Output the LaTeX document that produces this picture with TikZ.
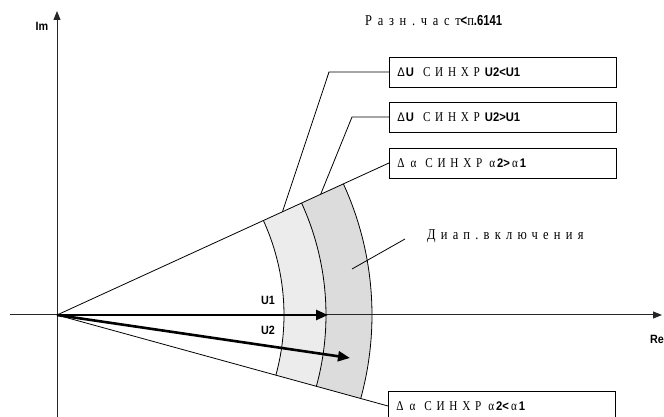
\documentclass[tikz,border=0pt]{standalone}
\usepackage{fontspec}
\setmainfont{Liberation Serif}
\newfontfamily\srf{Liberation Serif}[FakeStretch=0.83,LetterSpace=35]
\newfontfamily\srfn{Liberation Serif}[FakeStretch=0.83]
\newfontfamily\srfw{Liberation Serif}[FakeStretch=0.83,LetterSpace=38]
\newfontfamily\sns{Liberation Sans}[FakeStretch=0.9]
\newfontfamily\snst{Liberation Sans}[FakeStretch=0.78]
\usetikzlibrary{arrows.meta,calc}
\definecolor{bandlight}{HTML}{ECECEC}
\definecolor{banddark}{HTML}{DCDCDC}
\newcommand{\bsz}{\fontsize{13.5}{15}\selectfont}
\newcommand{\ssz}{\fontsize{12.5}{15}\selectfont}
\newcommand{\alphabox}[1]{{\srfn\bsz Δ}\hspace{6pt}{\srfn\bsz α}\hspace{9pt}{\srf\bsz СИНХР}\hspace{7pt}{\srfn\bsz α}\hspace{2pt}{\sns\bfseries\ssz 2#1}\hspace{2pt}{\srfn\bsz α}\hspace{2pt}{\sns\bfseries\ssz 1}}
\newcommand{\ubox}[1]{{\sns\ssz Δ\hspace{1pt}\textbf{U}}\hspace{9pt}{\srf\bsz СИНХР}\hspace{5pt}{\sns\bfseries\ssz U2#1U1}}
\tikzset{
  axis/.style={line width=1pt, draw=black!85, -{Triangle[length=9pt,width=7pt]}},
  vec/.style={line width=2.6pt, -{Triangle[length=12pt,width=10pt]}},
  thin/.style={line width=0.8pt},
  infobox/.style={draw, line width=0.8pt, minimum width=227pt, minimum height=30pt,
    inner xsep=8pt, text width=211pt, align=left, anchor=west},
  lbl/.style={font=\sns\bfseries\fontsize{12}{14}\selectfont, inner sep=0pt}
}
\begin{document}
\begin{tikzpicture}[x=1pt,y=1pt]
\useasboundingbox (0,0) rectangle (664,417);
\def\ra{24.6}
\def\rb{-15.4}
\coordinate (O) at (57,102);
% bands
\fill[bandlight] (O) ++(\ra:227) arc[start angle=\ra, end angle=\rb, radius=227]
   -- ++(\rb:42) arc[start angle=\rb, end angle=\ra, radius=269] -- cycle;
\fill[banddark] (O) ++(\ra:269) arc[start angle=\ra, end angle=\rb, radius=269]
   -- ++(\rb:46) arc[start angle=\rb, end angle=\ra, radius=315] -- cycle;
\draw[thin] (O) ++(\ra:227) arc[start angle=\ra, end angle=\rb, radius=227];
\draw[thin] (O) ++(\ra:269) arc[start angle=\ra, end angle=\rb, radius=269];
\draw[thin] (O) ++(\ra:315) arc[start angle=\ra, end angle=\rb, radius=315];
% axes
\coordinate (xs) at (10,102);
\coordinate (xe) at (662,102);
\coordinate (ys) at (57,0);
\coordinate (ye) at (57,406);
\draw[axis] (xs) -- (xe);
\draw[axis] (ys) -- (ye);
\node[lbl] (im) at (42,391) {Im};
\node[lbl] (re) at (657,78) {Re};
% title
\node[anchor=base west, inner sep=0pt] (title) at (365,391)
  {{\srfw\fontsize{15}{17}\selectfont Разн.част}{\snst\bfseries\fontsize{14.5}{17}\selectfont <}{\srfw\fontsize{15}{17}\selectfont п}{\snst\bfseries\fontsize{14.5}{17}\selectfont .6141}};
% boxes
\node[infobox] (b1) at (389,345) {\ubox{<}};
\node[infobox] (b2) at (389,300) {\ubox{>}};
\node[infobox] (b3) at (389,254) {\alphabox{>}};
\node[infobox] (b4) at (388,11) {\alphabox{<}};
% rays
\draw[thin] (O) -- (b3.west);
\draw[thin] (O) -- (b4.west);
% leaders
\coordinate (k1) at (329,345);
\coordinate (p1) at ($(O)+(\ra:248)$);
\coordinate (k2) at (352,300);
\coordinate (p2) at ($(O)+(\ra:290)$);
\draw[thin] (b1.west) -- (k1) -- (p1);
\draw[thin] (b2.west) -- (k2) -- (p2);
% range label
\node[anchor=base west, inner sep=0pt] (rng) at (427,177) {\srf\fontsize{15}{17}\selectfont Диап.включения};
\coordinate (q1) at (405,178);
\coordinate (q2) at (352,148);
\draw[thin] (q1) -- (q2);
% vectors
\coordinate (u1) at (328,102);
\coordinate (u2) at (350,59);
\draw[vec] (O) -- (u1);
\draw[vec] (O) -- (u2);
\node[lbl] (l1) at (268,117) {U1};
\node[lbl] (l2) at (268,87) {U2};
\end{tikzpicture}
\end{document}
